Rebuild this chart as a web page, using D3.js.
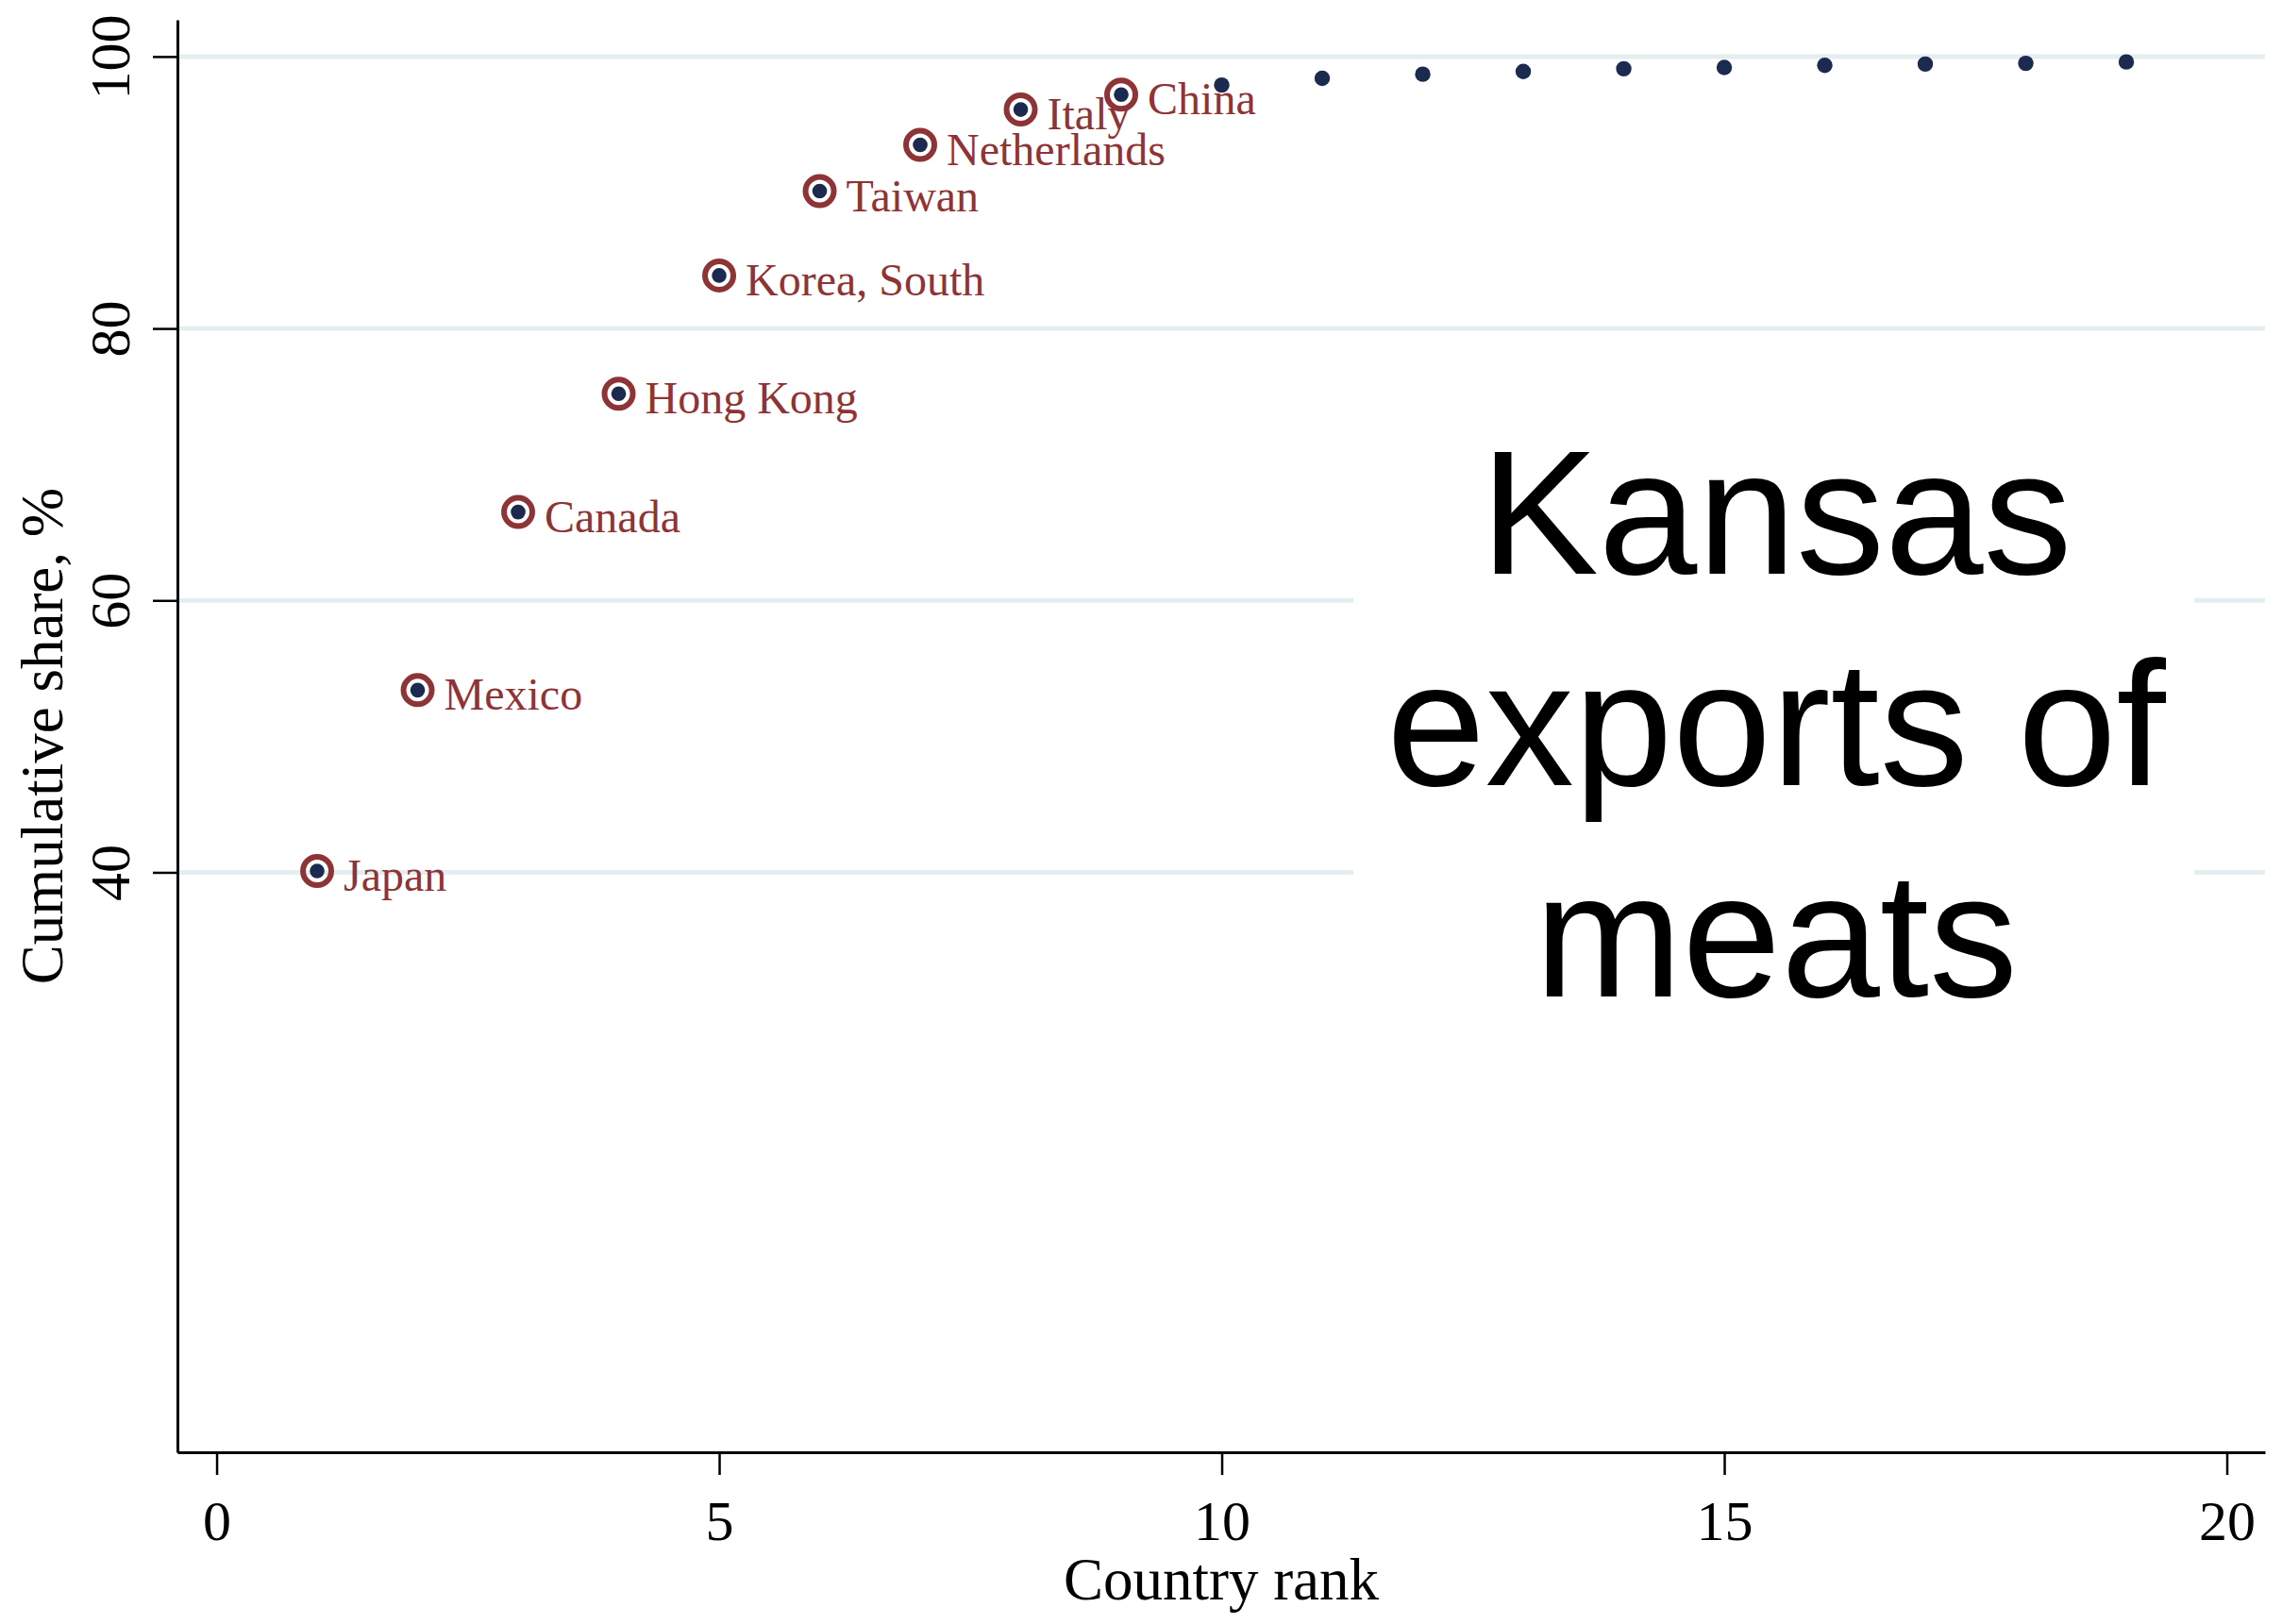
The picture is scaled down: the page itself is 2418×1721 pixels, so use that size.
<!DOCTYPE html>
<html>
<head>
<meta charset="utf-8">
<script src="https://cdn.jsdelivr.net/npm/d3@7"></script>
<style>
  html, body { margin: 0; padding: 0; background: #ffffff; }
  svg { display: block; }
</style>
</head>
<body>
<script>
// ---- data ----
const ranks = [1, 2, 3, 4, 5, 6, 7, 8, 9, 10, 11, 12, 13, 14, 15, 16, 17, 18, 19];
const cumShare = [40.1, 53.4, 66.5, 75.2, 83.9, 90.1, 93.5, 96.1, 97.2, 97.9, 98.4, 98.7, 98.9, 99.1, 99.2, 99.35, 99.45, 99.5, 99.6];
const countryLabels = ["Japan", "Mexico", "Canada", "Hong Kong", "Korea, South", "Taiwan", "Netherlands", "Italy", "China"];
const xTicks = [0, 5, 10, 15, 20];
const yTicks = [40, 60, 80, 100];
const xTitle = "Country rank";
const yTitle = "Cumulative share, %";
const annotationLines = ["Kansas", "exports of", "meats"];

// ---- layout ----
const W = 2418, H = 1721;
const plotLeft = 188, plotRight = 2400, plotTop = 21, plotBottom = 1539;
const serif = "'Liberation Serif', 'Times New Roman', serif";
const sans = "'Liberation Sans', Arial, Helvetica, sans-serif";
const navy = "#1b2a4e";
const maroon = "#8e3437";

const svg = d3.select("body").append("svg").attr("width", W).attr("height", H);
svg.append("rect").attr("width", W).attr("height", H).attr("fill", "#fff");

const x = d3.scaleLinear().domain([-0.39, 20.38]).range([plotLeft, plotRight]);
const y = d3.scaleLinear().domain([-2.65, 102.7]).range([plotBottom, plotTop]);

// gridlines
svg.append("g").selectAll("line").data(yTicks).join("line")
  .attr("x1", plotLeft).attr("x2", plotRight)
  .attr("y1", d => y(d)).attr("y2", d => y(d))
  .attr("stroke", "#e4edf0").attr("stroke-width", 5);

// annotation background box (hides gridlines)
svg.append("rect")
  .attr("x", 1434).attr("y", 450).attr("width", 891).attr("height", 650)
  .attr("fill", "#fff");

// annotation text
svg.append("g").selectAll("text").data(annotationLines).join("text")
  .attr("x", 1882)
  .attr("y", (d, i) => 608 + i * 224)
  .attr("text-anchor", "middle")
  .attr("font-family", sans)
  .attr("font-size", 188)
  .attr("fill", "#000")
  .text(d => d);

// y axis
const gy = svg.append("g").attr("transform", `translate(${plotLeft},0)`)
  .call(d3.axisLeft(y).tickValues(yTicks).tickSize(26).tickSizeOuter(0).tickFormat(d3.format("d")));
gy.select(".domain").attr("stroke", "#000").attr("stroke-width", 3);
gy.selectAll(".tick line").attr("stroke", "#000").attr("stroke-width", 2.5);
gy.selectAll(".tick text")
  .attr("transform", "rotate(-90)")
  .attr("x", 0).attr("y", -51).attr("dy", 0)
  .attr("text-anchor", "middle")
  .attr("font-family", serif).attr("font-size", 60).attr("fill", "#000");

// x axis
const gx = svg.append("g").attr("transform", `translate(0,${plotBottom})`)
  .call(d3.axisBottom(x).tickValues(xTicks).tickSize(24).tickSizeOuter(0).tickFormat(d3.format("d")));
gx.select(".domain").attr("stroke", "#000").attr("stroke-width", 3);
gx.selectAll(".tick line").attr("stroke", "#000").attr("stroke-width", 2.5);
gx.selectAll(".tick text")
  .attr("y", 93).attr("dy", 0)
  .attr("font-family", serif).attr("font-size", 60).attr("fill", "#000");

// axis titles
svg.append("text")
  .attr("transform", `translate(66,${(plotTop + plotBottom) / 2}) rotate(-90)`)
  .attr("text-anchor", "middle")
  .attr("font-family", serif).attr("font-size", 63).attr("fill", "#000")
  .text(yTitle);
svg.append("text")
  .attr("x", (plotLeft + plotRight) / 2).attr("y", 1695)
  .attr("text-anchor", "middle")
  .attr("font-family", serif).attr("font-size", 63).attr("fill", "#000")
  .text(xTitle);

// points
const pts = ranks.map((r, i) => ({ r, v: cumShare[i], label: countryLabels[i] || "" }));
const labeled = pts.filter(d => d.label);

// labels
svg.append("g").selectAll("text").data(labeled).join("text")
  .attr("x", d => x(d.r) + 28)
  .attr("y", d => y(d.v) + 21)
  .attr("font-family", serif).attr("font-size", 48).attr("fill", maroon)
  .text(d => d.label);

// rings for labeled points
svg.append("g").selectAll("circle").data(labeled).join("circle")
  .attr("cx", d => x(d.r)).attr("cy", d => y(d.v)).attr("r", 15)
  .attr("fill", "none").attr("stroke", maroon).attr("stroke-width", 6);

// navy dots
svg.append("g").selectAll("circle").data(pts).join("circle")
  .attr("cx", d => x(d.r)).attr("cy", d => y(d.v))
  .attr("r", d => d.label ? 7.8 : 8.2)
  .attr("fill", navy);
</script>
</body>
</html>
